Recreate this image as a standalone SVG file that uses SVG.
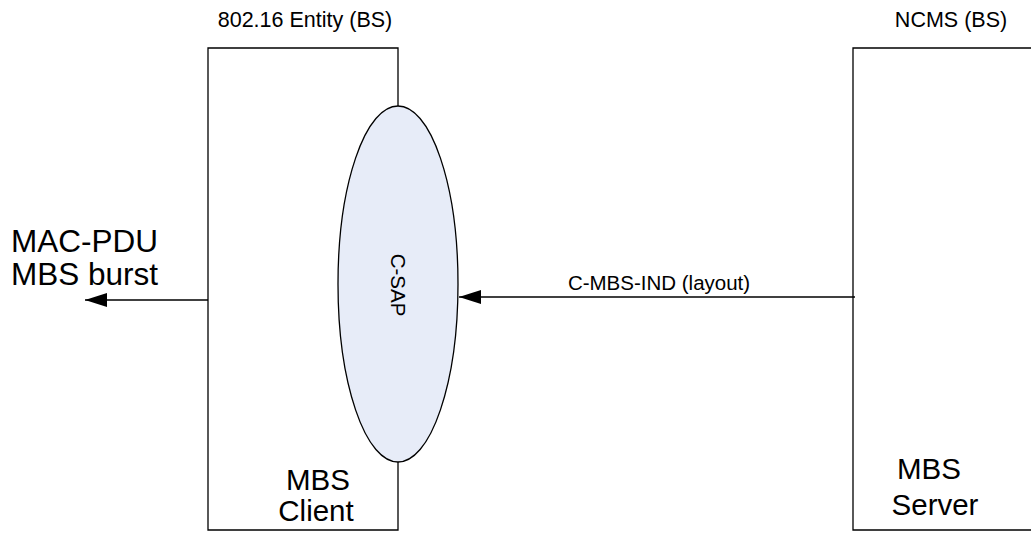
<svg xmlns="http://www.w3.org/2000/svg" width="1031" height="533" viewBox="0 0 1031 533">
<style>
text{font-family:"Liberation Sans",Arial,sans-serif;fill:#000}
.box{fill:none;stroke:#000;stroke-width:1.3}
.ln{stroke:#000;stroke-width:1.3;fill:none}
.t{font-size:21.5px}
.big{font-size:29.5px}
</style>
<defs>
<marker id="ah" markerWidth="22" markerHeight="14" refX="22" refY="7" orient="auto" markerUnits="userSpaceOnUse">
<path d="M0,0 L22,7 L0,14 Z" fill="#000"/>
</marker>
</defs>
<rect width="1031" height="533" fill="#fff"/>
<g id="entity">
<path class="box" d="M398,106 V48 H208 V530 H398 V462"/>
<text class="t" x="305" y="27" text-anchor="middle">802.16 Entity (BS)</text>
<text class="big" x="318" y="490" text-anchor="middle">MBS</text>
<text class="big" x="316" y="521" text-anchor="middle">Client</text>
</g>
<g id="csap">
<ellipse cx="398" cy="284" rx="60" ry="178" fill="#e7ecf8" stroke="#000" stroke-width="1.3"/>
<text transform="translate(398,285) rotate(90)" y="7" font-size="20.5" text-anchor="middle">C-SAP</text>
</g>
<g id="ncms">
<path class="box" d="M1040,48 H853 V530 H1040"/>
<text class="t" x="951" y="27" text-anchor="middle">NCMS (BS)</text>
<text class="big" x="929" y="479" text-anchor="middle">MBS</text>
<text class="big" x="935" y="515" text-anchor="middle">Server</text>
</g>
<g id="macpdu">
<text x="11" y="252" font-size="31.5">MAC-PDU</text>
<text x="11" y="285" font-size="31.5">MBS burst</text>
</g>
<g id="connectors">
<line class="ln" x1="855" y1="297" x2="459" y2="297" marker-end="url(#ah)"/>
<line class="ln" x1="208" y1="300" x2="85" y2="300" marker-end="url(#ah)"/>
<text x="659" y="290" font-size="20.5" text-anchor="middle">C-MBS-IND (layout)</text>
</g>
</svg>
